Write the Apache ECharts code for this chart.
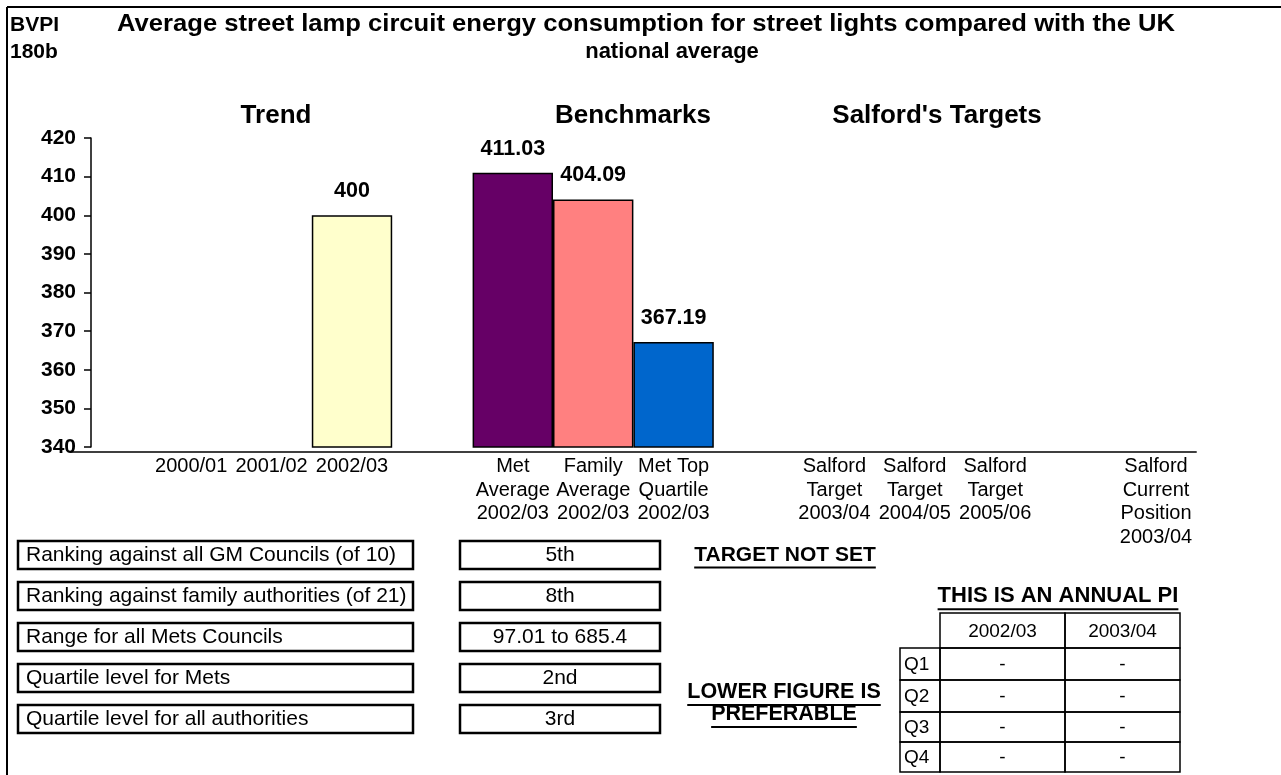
<!DOCTYPE html>
<html><head><meta charset="utf-8">
<script src="https://cdn.jsdelivr.net/npm/echarts@6/dist/echarts.min.js"></script>
<style>html,body{margin:0;padding:0;background:#fff}#c{width:1281px;height:775px}</style>
</head><body><div id="c"></div>
<script>
const FONT = '"Liberation Sans", Arial, Helvetica, sans-serif';

// ---- data ----
const categories = [' ', '2000/01', '2001/02', '2002/03', '  ',
  'Met\nAverage\n2002/03', 'Family\nAverage\n2002/03', 'Met Top\nQuartile\n2002/03', '   ',
  'Salford\nTarget\n2003/04', 'Salford\nTarget\n2004/05', 'Salford\nTarget\n2005/06', '    ',
  'Salford\nCurrent\nPosition\n2003/04'];
const values = [null, null, null, 400, null, 411.03, 404.09, 367.19, null, null, null, null, null, null];
const barColors = [null, null, null, '#FFFFCC', null, '#660066', '#FF8080', '#0066CC', null, null, null, null, null, null];
const yMin = 340, yMax = 420, yInterval = 10;

const titleLeft = ['BVPI', '180b'];
const titleMain = ['Average street lamp circuit energy consumption for street lights compared with the UK', 'national average'];
const sectionTitles = ['Trend', 'Benchmarks', "Salford's Targets"];
const infoLabels = ['Ranking against all GM Councils (of 10)', 'Ranking against family authorities (of 21)',
  'Range for all Mets Councils', 'Quartile level for Mets', 'Quartile level for all authorities'];
const infoValues = ['5th', '8th', '97.01 to 685.4', '2nd', '3rd'];
const targetNote = 'TARGET NOT SET';
const annualNote = 'THIS IS AN ANNUAL PI';
const lowerNote = ['LOWER FIGURE IS', 'PREFERABLE'];
const tableYears = ['2002/03', '2003/04'];
const tableQuarters = ['Q1', 'Q2', 'Q3', 'Q4'];
const tableValues = [['-', '-'], ['-', '-'], ['-', '-'], ['-', '-']];

// ---- helpers ----
const mctx = document.createElement('canvas').getContext('2d');
function tw(text, font) { mctx.font = font; return mctx.measureText(text).width; }
function txt(text, x, y, size, bold, align) {
  return { type: 'text', style: { text: text, x: x, y: y, fill: '#000',
    font: (bold ? 'bold ' : '') + size + 'px ' + FONT,
    textAlign: align || 'left', textVerticalAlign: 'middle' } };
}
function uline(text, xc, y, size) {
  const w = tw(text, 'bold ' + size + 'px "Liberation Sans"');
  return [txt(text, xc, y, size, true, 'center'),
    { type: 'line', shape: { x1: xc - w / 2, y1: y + size * 0.6, x2: xc + w / 2, y2: y + size * 0.6 },
      style: { stroke: '#000', lineWidth: 2 } }];
}
function fitted(text, x0, x1, y, size) {
  const w = tw(text, 'bold ' + size + 'px "Liberation Sans"');
  const sx = (x1 - x0) / w;
  const e = txt(text, 0, 0, size, true, 'left');
  e.x = x0; e.y = y; e.scaleX = sx;
  return e;
}

const g = [];
// border
g.push({ type: 'line', shape: { x1: 7, y1: 7, x2: 1281, y2: 7 }, style: { stroke: '#000', lineWidth: 2 } });
g.push({ type: 'line', shape: { x1: 7, y1: 7, x2: 7, y2: 775 }, style: { stroke: '#000', lineWidth: 2 } });
// titles
g.push(txt(titleLeft[0], 10, 25, 21, true));
g.push(txt(titleLeft[1], 10, 52, 21, true));
g.push(fitted(titleMain[0], 117, 1175, 25, 23));
g.push(txt(titleMain[1], 672, 52, 22, true, 'center'));
// section titles
const secX = [276, 633, 937];
sectionTitles.forEach((s, i) => g.push(txt(s, secX[i], 116, 26, true, 'center')));
// info boxes
const rowY = [541, 582, 623, 664, 705];
infoLabels.forEach((s, i) => {
  g.push({ type: 'rect', shape: { x: 18, y: rowY[i], width: 395, height: 28 }, style: { fill: '#fff', stroke: '#000', lineWidth: 2.5 } });
  g.push(txt(s, 26, rowY[i] + 14.5, 21, false));
  g.push({ type: 'rect', shape: { x: 460, y: rowY[i], width: 200, height: 28 }, style: { fill: '#fff', stroke: '#000', lineWidth: 2.5 } });
  g.push(txt(infoValues[i], 560, rowY[i] + 14.5, 21, false, 'center'));
});
// notes
uline(targetNote, 785, 555, 21).forEach(e => g.push(e));
uline(annualNote, 1058, 596, 22).forEach(e => g.push(e));
uline(lowerNote[0], 784, 692, 21.5).forEach(e => g.push(e));
uline(lowerNote[1], 784, 714, 21.5).forEach(e => g.push(e));
// table
const colX = [940, 1065, 1180];
const qX0 = 900;
const headY = [613, 648];
const qRowY = [648, 680, 712, 742, 772];
tableYears.forEach((s, i) => {
  g.push({ type: 'rect', shape: { x: colX[i], y: headY[0], width: colX[i + 1] - colX[i], height: headY[1] - headY[0] }, style: { fill: 'none', stroke: '#000', lineWidth: 1.5 } });
  g.push(txt(s, (colX[i] + colX[i + 1]) / 2, (headY[0] + headY[1]) / 2 + 1, 19, false, 'center'));
});
tableQuarters.forEach((q, r) => {
  const y0 = qRowY[r], y1 = qRowY[r + 1];
  g.push({ type: 'rect', shape: { x: qX0, y: y0, width: colX[0] - qX0, height: y1 - y0 }, style: { fill: 'none', stroke: '#000', lineWidth: 1.5 } });
  g.push(txt(q, qX0 + 4, (y0 + y1) / 2 + 1, 19, false));
  tableValues[r].forEach((v, c) => {
    g.push({ type: 'rect', shape: { x: colX[c], y: y0, width: colX[c + 1] - colX[c], height: y1 - y0 }, style: { fill: 'none', stroke: '#000', lineWidth: 1.5 } });
    g.push(txt(v, (colX[c] + colX[c + 1]) / 2, (y0 + y1) / 2 + 1, 19, false, 'center'));
  });
});

// ---- chart ----
const gridLeft = 70.6, slot = 80.4;
const chart = echarts.init(document.getElementById('c'), null, { renderer: 'canvas' });
chart.setOption({
  animation: false,
  backgroundColor: '#fff',
  textStyle: { fontFamily: FONT },
  grid: { left: gridLeft, width: slot * categories.length, top: 138, height: 309, containLabel: false },
  xAxis: {
    type: 'category', data: categories, offset: 5,
    axisLine: { show: true, lineStyle: { color: '#000', width: 1.5 } },
    axisTick: { show: false },
    axisLabel: { interval: 0, color: '#000', fontSize: 20, lineHeight: 23.5, margin: 3, fontFamily: FONT }
  },
  yAxis: {
    type: 'value', min: yMin, max: yMax, interval: yInterval, offset: -(91 - gridLeft),
    splitLine: { show: false },
    axisLine: { show: true, lineStyle: { color: '#000', width: 1.5 } },
    axisTick: { show: true, inside: false, length: 7, lineStyle: { color: '#000', width: 1.5 } },
    axisLabel: { color: '#000', fontSize: 21, fontWeight: 'bold', margin: 15, fontFamily: FONT }
  },
  series: [{
    type: 'bar', barCategoryGap: '0%',
    data: values.map((v, i) => v == null ? null : { value: v, itemStyle: { color: barColors[i] } }),
    itemStyle: { borderColor: '#000', borderWidth: 1.5 },
    label: { show: true, position: 'top', distance: 13, color: '#000', fontSize: 21.5, fontWeight: 'bold', fontFamily: FONT }
  }],
  graphic: g
});
</script></body></html>
